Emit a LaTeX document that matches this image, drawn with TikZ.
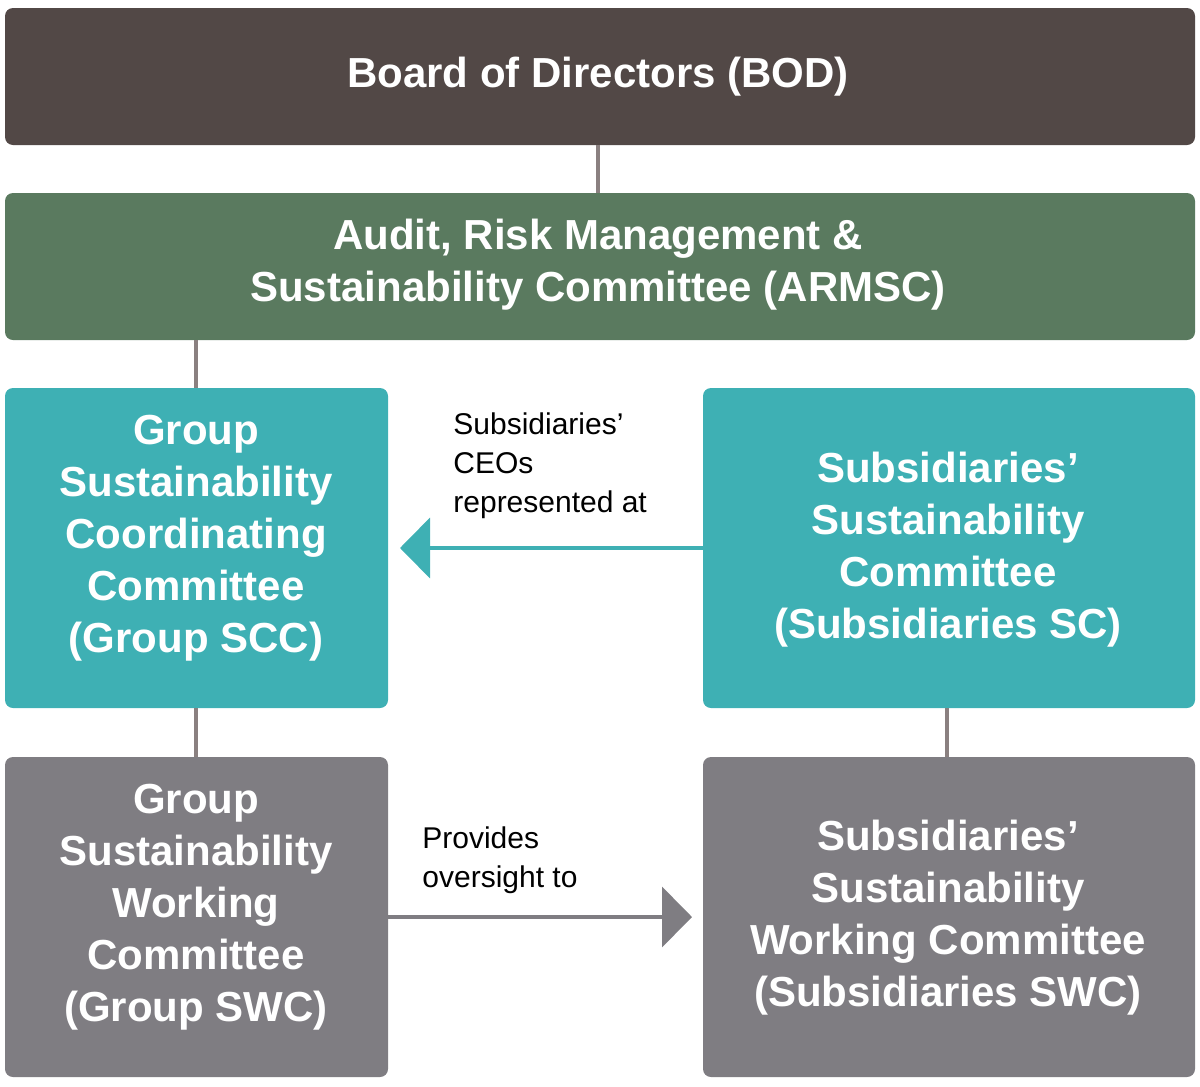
\documentclass[tikz,border=0pt]{standalone}
\usepackage{fontspec}
\setmainfont{Liberation Sans}
\usetikzlibrary{arrows.meta}
\definecolor{bod}{HTML}{524846}
\definecolor{arm}{HTML}{5A7A5F}
\definecolor{teal}{HTML}{3EB0B4}
\definecolor{gry}{HTML}{7F7D82}
\definecolor{ln}{HTML}{8A8080}
\begin{document}
\begin{tikzpicture}[x=0.5pt,y=-0.5pt,
 box/.style={draw=none,rounded corners=4pt,inner sep=0pt},
 lbl/.style={text=white,font=\bfseries\fontsize{21}{26}\selectfont,align=center},
 note/.style={font=\fontsize{15}{19.5}\selectfont,align=left,anchor=north west,inner sep=0pt},
 conn/.style={draw=ln,line width=2pt}]
\useasboundingbox (0,0) rectangle (1200,1087);
\fill[bod,rounded corners=4pt] (5,8) rectangle (1195,145);
\fill[arm,rounded corners=4pt] (5,193) rectangle (1195,340);
\fill[teal,rounded corners=4pt] (5,388) rectangle (388,708);
\fill[teal,rounded corners=4pt] (703,388) rectangle (1195,708);
\fill[gry,rounded corners=4pt] (5,757) rectangle (388,1077);
\fill[gry,rounded corners=4pt] (703,757) rectangle (1195,1077);
\node[lbl] (bod) at (598,77) {Board of Directors (BOD)};
\node[lbl] (arm) at (598,265) {Audit, Risk Management \&\\Sustainability Committee (ARMSC)};
\node[lbl] (gscc) at (196,538) {Group\\Sustainability\\Coordinating\\Committee\\(Group SCC)};
\node[lbl] (ssc) at (948,550) {Subsidiaries’\\Sustainability\\Committee\\(Subsidiaries SC)};
\node[lbl] (gswc) at (196,907) {Group\\Sustainability\\Working\\Committee\\(Group SWC)};
\node[lbl] (sswc) at (948,918) {Subsidiaries’\\Sustainability\\Working Committee\\(Subsidiaries SWC)};
\coordinate (a1) at (598,145); \coordinate (a2) at (598,193);
\coordinate (b1) at (196,340); \coordinate (b2) at (196,388);
\coordinate (c1) at (196,708); \coordinate (c2) at (196,757);
\coordinate (d1) at (947,708); \coordinate (d2) at (947,757);
\draw[conn] (a1)--(a2); \draw[conn] (b1)--(b2); \draw[conn] (c1)--(c2); \draw[conn] (d1)--(d2);
\coordinate (t1) at (703,548); \coordinate (t2) at (400,548);
\draw[draw=teal,line width=2pt,-{Triangle[width=30pt,length=15pt]}] (t1)--(t2);
\coordinate (g1) at (388,917); \coordinate (g2) at (692,917);
\draw[draw=gry,line width=2pt,-{Triangle[width=30pt,length=15pt]}] (g1)--(g2);
\node[note] (n1) at (453,412) {Subsidiaries’\\CEOs\\represented at};
\node[note] (n2) at (422,826) {Provides\\oversight to};
\end{tikzpicture}
\end{document}
